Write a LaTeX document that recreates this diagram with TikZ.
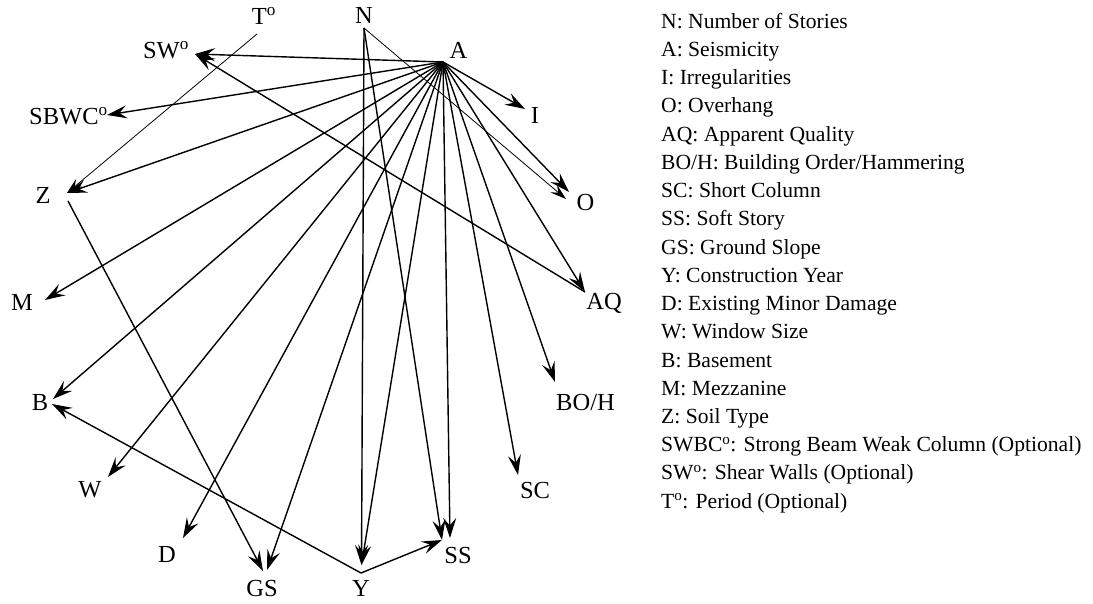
\documentclass[tikz,border=0pt]{standalone}
\usepackage{fontspec}
\setmainfont{Liberation Serif}
\usetikzlibrary{arrows.meta}
\begin{document}
\begin{tikzpicture}[x=1pt,y=-1pt,
  lab/.style={font=\fontsize{24.5}{29}\selectfont, inner sep=0pt, anchor=base},
  leg/.style={font=\fontsize{21.6}{26}\selectfont, inner sep=0pt, anchor=base west},
  conn/.style={line width=1.4pt, -{Stealth[length=20pt,width=13pt,inset=7.5pt]}},
  thinconn/.style={line width=0.8pt, -{Stealth[length=16pt,width=10pt,inset=6pt]}}]
\useasboundingbox (0,0) rectangle (1093,604);
% labels
\node[lab] (lA) at (458.5,59) {A};
\node[lab] (lN) at (364,24) {N};
\node[lab] (lT) at (264,25) {T\textsuperscript{o}};
\node[lab] (lSW) at (166,59) {SW\textsuperscript{o}};
\node[lab] (lSBWC) at (68.5,125) {SBWC\textsuperscript{o}};
\node[lab] (lZ) at (43,204) {Z};
\node[lab] (lM) at (22,310.7) {M};
\node[lab] (lB) at (40,410.7) {B};
\node[lab] (lW) at (90,497) {W};
\node[lab] (lD) at (167,562.7) {D};
\node[lab] (lGS) at (262,596.7) {GS};
\node[lab] (lY) at (361,596.7) {Y};
\node[lab] (lSS) at (458,563) {SS};
\node[lab] (lSC) at (535,498) {SC};
\node[lab] (lBOH) at (585.5,410.7) {BO/H};
\node[lab] (lAQ) at (604,309) {AQ};
\node[lab] (lO) at (585.5,211) {O};
\node[lab] (lI) at (535,124) {I};
% hub points
\coordinate (A) at (443,62);
\coordinate (N) at (364,28);
\coordinate (T) at (257,34);
\coordinate (SW) at (195,54);
\coordinate (SBWC) at (107,115);
\coordinate (Zin) at (67,193);
\coordinate (Zout) at (68,201);
\coordinate (M) at (45,300);
\coordinate (Ba) at (53,399);
\coordinate (Bb) at (52,404);
\coordinate (W) at (108,477);
\coordinate (D) at (183,538);
\coordinate (GSa) at (263,571);
\coordinate (GSb) at (267,570);
\coordinate (Yin) at (361.5,565);
\coordinate (Yout) at (361,573);
\coordinate (SSa) at (450,538);
\coordinate (SSb) at (442,540);
\coordinate (SC) at (518,475);
\coordinate (BOH) at (555,382);
\coordinate (AQ) at (585,292);
\coordinate (Oa) at (569,192);
\coordinate (Ob) at (566,199);
\coordinate (I) at (525,109);
% edges
\foreach \t in {SW,SBWC,Zin,M,Ba,W,D,GSb,Yin,SSa,SC,BOH,AQ,Oa,I}
  \draw[conn] (A) -- (\t);
\draw[conn] (N) -- (Yin);
\draw[conn] (N) -- (SSb);
\draw[thinconn] (N) -- (Ob);
\draw[thinconn] (T) -- (Zin);
\draw[conn] (AQ) -- (SW);
\draw[conn] (Zout) -- (GSa);
\draw[conn] (Yout) -- (Bb);
\draw[conn] (Yout) -- (SSb);
% legend
\foreach \i/\txt in {0/{N: Number of Stories},1/{A: Seismicity},2/{I: Irregularities},3/{O: Overhang},4/{AQ: Apparent Quality},5/{BO/H: Building Order/Hammering},6/{SC: Short Column},7/{SS: Soft Story},8/{GS: Ground Slope},9/{Y: Construction Year},10/{D: Existing Minor Damage},11/{W: Window Size},12/{B: Basement},13/{M: Mezzanine},14/{Z: Soil Type},15/{SWBC\textsuperscript{o}: Strong Beam Weak Column (Optional)},16/{SW\textsuperscript{o}: Shear Walls (Optional)},17/{T\textsuperscript{o}: Period (Optional)}}
  \node[leg] (leg\i) at (661,28.3+28.23*\i) {\txt};
\end{tikzpicture}
\end{document}
